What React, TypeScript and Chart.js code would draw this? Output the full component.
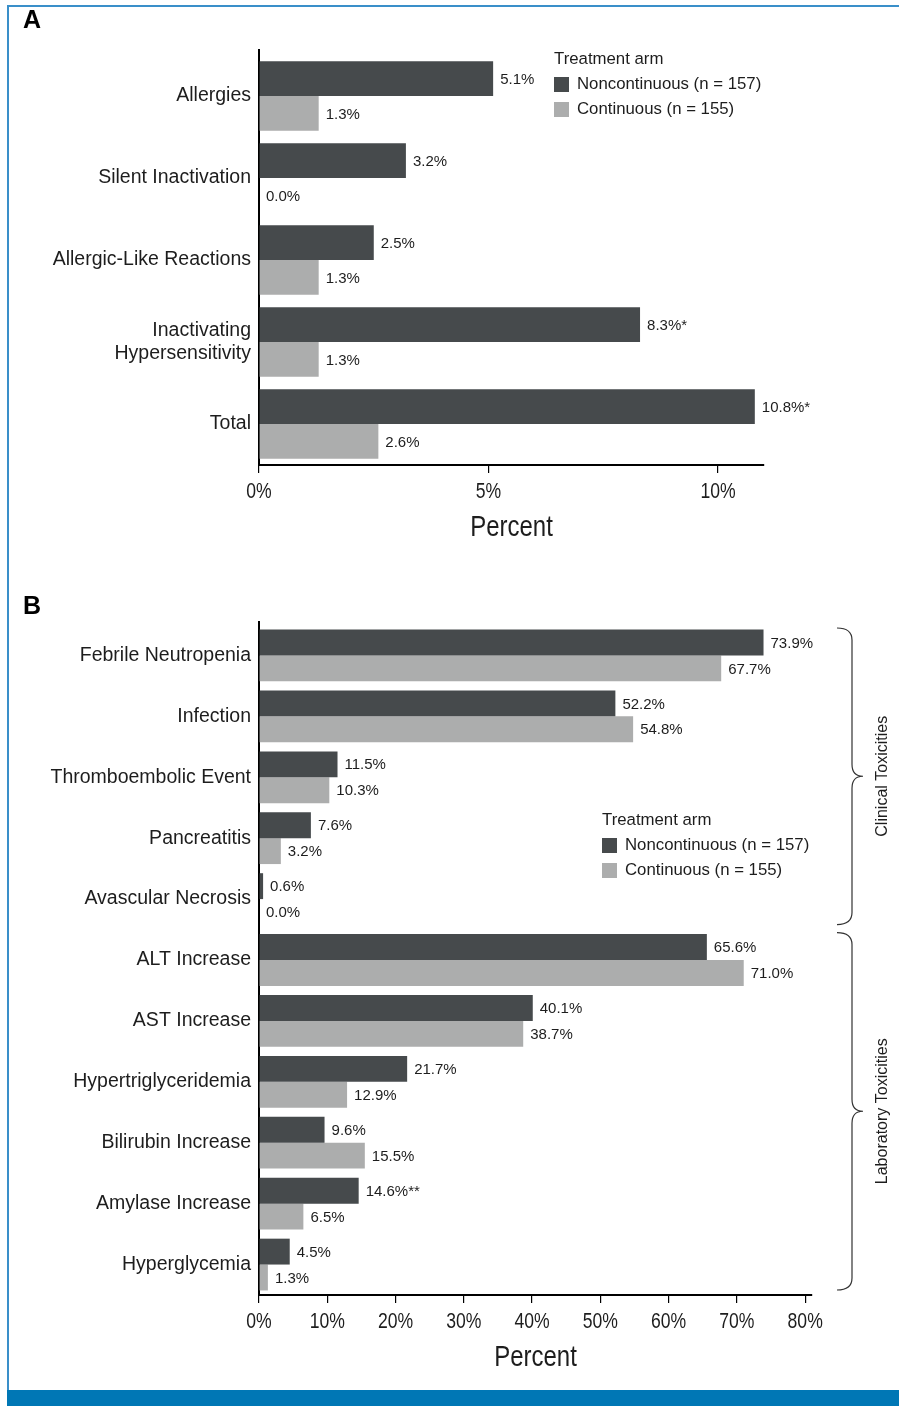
import React, { useEffect, useRef } from 'react';
import { Chart, registerables } from 'chart.js';
Chart.register(...registerables);

// ---------- data ----------
const categoriesA: (string | string[])[] = ['Allergies', 'Silent Inactivation', 'Allergic-Like Reactions', ['Inactivating', 'Hypersensitivity'], 'Total'];
const noncontinuousA = [5.1, 3.2, 2.5, 8.3, 10.8];
const continuousA = [1.3, 0.0, 1.3, 1.3, 2.6];
const noncontinuousNotesA = ['', '', '', '*', '*'];
const continuousNotesA = ['', '', '', '', ''];
const ticksA = [0, 5, 10];
const maxA = 11;

const categoriesB: string[] = [
  'Febrile Neutropenia', 'Infection', 'Thromboembolic Event', 'Pancreatitis', 'Avascular Necrosis',
  'ALT Increase', 'AST Increase', 'Hypertriglyceridemia', 'Bilirubin Increase', 'Amylase Increase', 'Hyperglycemia',
];
const noncontinuousB = [73.9, 52.2, 11.5, 7.6, 0.6, 65.6, 40.1, 21.7, 9.6, 14.6, 4.5];
const continuousB = [67.7, 54.8, 10.3, 3.2, 0.0, 71.0, 38.7, 12.9, 15.5, 6.5, 1.3];
const noncontinuousNotesB = ['', '', '', '', '', '', '', '', '', '**', ''];
const continuousNotesB = ['', '', '', '', '', '', '', '', '', '', ''];
const ticksB = [0, 10, 20, 30, 40, 50, 60, 70, 80];
const maxB = 81;
const groupLabelsB = ['Clinical Toxicities', 'Laboratory Toxicities'];
const groupFromB = [0, 5];
const groupToB = [4, 10];

const seriesNames = ['Noncontinuous (n = 157)', 'Continuous (n = 155)'];
const legendTitle = 'Treatment arm';
const axisTitle = 'Percent';

// ---------- styles ----------
const DARK = '#464a4c';
const LIGHT = '#acadad';
const TEXT = '#1d1d1d';
const SANS = '"Liberation Sans", Arial, Helvetica, sans-serif';

const valueLabels = {
  id: 'valueLabels',
  afterDatasetsDraw(chart: any, _args: any, opts: any) {
    const ctx = chart.ctx;
    ctx.save();
    ctx.font = `15px ${SANS}`;
    ctx.fillStyle = TEXT;
    ctx.textBaseline = 'middle';
    ctx.textAlign = 'left';
    chart.data.datasets.forEach((ds: any, di: number) => {
      const meta = chart.getDatasetMeta(di);
      const notes = (opts.notes && opts.notes[di]) || [];
      meta.data.forEach((bar: any, i: number) => {
        const v = ds.data[i] as number;
        ctx.fillText(v.toFixed(1) + '%' + (notes[i] || ''), bar.x + 7, bar.y + 1);
      });
    });
    ctx.restore();
  },
};

// condensed x-axis tick labels and title, placed from the x scale
const narrowAxisText = {
  id: 'narrowAxisText',
  afterDraw(chart: any) {
    const xs = chart.scales.x;
    const ctx = chart.ctx;
    ctx.save();
    ctx.fillStyle = TEXT;
    ctx.textAlign = 'center';
    ctx.textBaseline = 'middle';
    ctx.font = `22px ${SANS}`;
    xs.ticks.forEach((t: any) => {
      const px = xs.getPixelForValue(t.value);
      ctx.save();
      ctx.translate(px, xs.top + 27);
      ctx.scale(0.8, 1);
      ctx.fillText(t.value + '%', 0, 0);
      ctx.restore();
    });
    ctx.font = `30px ${SANS}`;
    ctx.save();
    ctx.translate((chart.chartArea.left + chart.chartArea.right) / 2, xs.top + 63);
    ctx.scale(0.8, 1);
    ctx.fillText(axisTitle, 0, 0);
    ctx.restore();
    ctx.restore();
  },
};

const axisExtend = {
  id: 'axisExtend',
  afterDraw(chart: any, _args: any, opts: any) {
    const { left, top } = chart.chartArea;
    const ctx = chart.ctx;
    ctx.save();
    ctx.strokeStyle = '#000';
    ctx.lineWidth = 2;
    ctx.beginPath();
    ctx.moveTo(left, top - (opts.extend || 0));
    ctx.lineTo(left, top + 1);
    ctx.stroke();
    ctx.restore();
  },
};

const braces = {
  id: 'braces',
  afterDraw(chart: any, _args: any, opts: any) {
    if (!opts.labels) return;
    const ctx = chart.ctx;
    const y = chart.scales.y;
    const band = y.getPixelForValue(1) - y.getPixelForValue(0);
    const x0 = 837;
    const xL = 852;
    const xT = 863;
    const r = 12;
    ctx.save();
    ctx.strokeStyle = '#333';
    ctx.lineWidth = 1.2;
    opts.labels.forEach((label: string, gi: number) => {
      const top = y.getPixelForValue(opts.from[gi]) - band / 2 + 3;
      const bottom = y.getPixelForValue(opts.to[gi]) + band / 2 - 5;
      const mid = (top + bottom) / 2;
      ctx.beginPath();
      ctx.moveTo(x0, top);
      ctx.quadraticCurveTo(xL, top, xL, top + r);
      ctx.lineTo(xL, mid - r);
      ctx.quadraticCurveTo(xL, mid, xT, mid);
      ctx.quadraticCurveTo(xL, mid, xL, mid + r);
      ctx.lineTo(xL, bottom - r);
      ctx.quadraticCurveTo(xL, bottom, x0, bottom);
      ctx.stroke();
      ctx.save();
      ctx.translate(xT + 20, mid);
      ctx.rotate(-Math.PI / 2);
      ctx.font = `16px ${SANS}`;
      ctx.fillStyle = TEXT;
      ctx.textAlign = 'center';
      ctx.textBaseline = 'middle';
      ctx.fillText(label, 0, 0);
      ctx.restore();
    });
    ctx.restore();
  },
};

function makeConfig(
  categories: any[], nonc: number[], cont: number[], notes: string[][],
  ticks: number[], max: number, padTop: number, padRight: number, extend: number,
  groups: any,
): any {
  return {
    type: 'bar',
    data: {
      labels: categories,
      datasets: [
        { label: seriesNames[0], data: nonc, backgroundColor: DARK, borderWidth: 0 },
        { label: seriesNames[1], data: cont, backgroundColor: LIGHT, borderWidth: 0 },
      ],
    },
    options: {
      indexAxis: 'y',
      responsive: false,
      animation: false,
      datasets: { bar: { categoryPercentage: 0.85, barPercentage: 1.0 } },
      layout: { padding: { top: padTop, right: padRight, left: 0, bottom: 0 } },
      plugins: {
        legend: { display: false },
        tooltip: { enabled: false },
        valueLabels: { notes },
        axisExtend: { extend },
        braces: groups,
      },
      scales: {
        x: {
          type: 'linear',
          min: 0,
          max,
          afterBuildTicks: (s: any) => { s.ticks = ticks.map((v) => ({ value: v })); },
          afterFit: (s: any) => { s.height = 81; },
          grid: { drawOnChartArea: false, drawTicks: true, tickLength: 8, color: '#000', lineWidth: 1.2 },
          border: { display: true, color: '#000', width: 2 },
          ticks: { display: false },
          title: { display: false, text: axisTitle },
        },
        y: {
          type: 'category',
          afterFit: (s: any) => { s.width = 259; },
          grid: { display: true, drawOnChartArea: false, drawTicks: false },
          border: { display: true, color: '#000', width: 2 },
          ticks: {
            color: TEXT,
            padding: 8,
            autoSkip: false,
            font: { family: SANS, size: 19.5, lineHeight: 1.18 },
          },
        },
      },
    },
    plugins: [valueLabels, narrowAxisText, axisExtend, braces],
  };
}

function Legend({ left, top }: { left: number; top: number }) {
  const font: React.CSSProperties = { fontFamily: SANS, fontSize: 16.8, color: TEXT, lineHeight: '20px', whiteSpace: 'nowrap' };
  return (
    <>
      <div style={{ ...font, position: 'absolute', left, top: top - 10 }}>{legendTitle}</div>
      {seriesNames.map((n, i) => (
        <React.Fragment key={n}>
          <div style={{ position: 'absolute', left, top: top + 25 * (i + 1) - 7, width: 15, height: 15, background: i === 0 ? DARK : LIGHT }} />
          <div style={{ ...font, position: 'absolute', left: left + 23, top: top + 25 * (i + 1) - 10 }}>{n}</div>
        </React.Fragment>
      ))}
    </>
  );
}

export default function App() {
  const refA = useRef<HTMLCanvasElement>(null);
  const refB = useRef<HTMLCanvasElement>(null);
  useEffect(() => {
    const a = new Chart(refA.current!, makeConfig(categoriesA, noncontinuousA, continuousA,
      [noncontinuousNotesA, continuousNotesA], ticksA, maxA, 55, 135, 6, {}));
    const b = new Chart(refB.current!, makeConfig(categoriesB, noncontinuousB, continuousB,
      [noncontinuousNotesB, continuousNotesB], ticksB, maxB, 55, 87, 4,
      { labels: groupLabelsB, from: groupFromB, to: groupToB }));
    return () => { a.destroy(); b.destroy(); };
  }, []);
  const letter: React.CSSProperties = { position: 'absolute', left: 23, fontFamily: SANS, fontWeight: 'bold', fontSize: 25, lineHeight: '25px', color: '#000' };
  return (
    <div style={{ position: 'absolute', left: 0, top: 0, width: 899, height: 1406, background: '#fff', overflow: 'hidden' }}>
      <div style={{ position: 'absolute', left: 7, top: 5, width: 892, height: 1390, borderLeft: '2px solid #3a8fc9', borderTop: '2px solid #3a8fc9', boxSizing: 'border-box' }} />
      <div style={{ position: 'absolute', left: 7, top: 1390, width: 892, height: 16, background: '#0077b5' }} />
      <canvas ref={refA} width={899} height={546} style={{ position: 'absolute', left: 0, top: 0, width: 899, height: 546 }} />
      <canvas ref={refB} width={899} height={806} style={{ position: 'absolute', left: 0, top: 570, width: 899, height: 806 }} />
      <div style={{ ...letter, top: 7 }}>A</div>
      <div style={{ ...letter, top: 593 }}>B</div>
      <Legend left={554} top={59} />
      <Legend left={602} top={820} />
    </div>
  );
}
